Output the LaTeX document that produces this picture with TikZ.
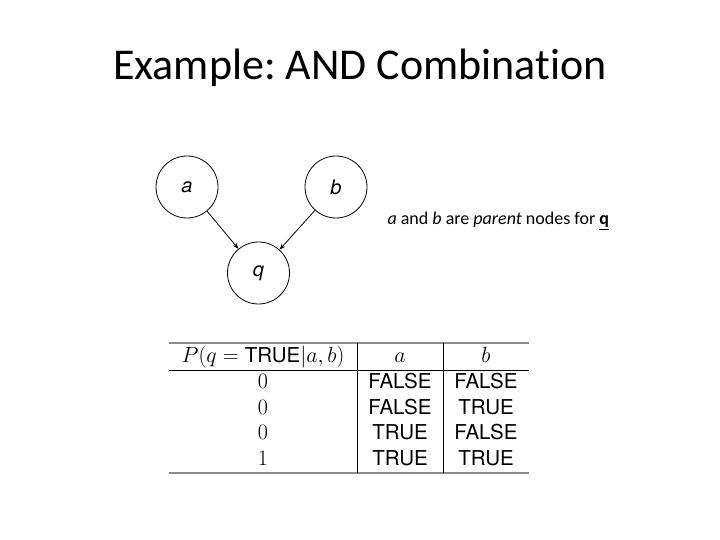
\documentclass[tikz,border=0pt]{standalone}
\usepackage{fix-cm}
\usepackage[no-math]{fontspec}
\setmainfont{Carlito}[Ligatures={NoCommon}]
\newfontfamily\heros{TeX Gyre Heros}
\usetikzlibrary{arrows.meta}
\frenchspacing
\begin{document}
\begin{tikzpicture}[x=1pt,y=-1pt,
  vnode/.style={draw,circle,line width=0.8pt,minimum size=62pt,inner sep=0pt,font=\fontsize{20}{24}\selectfont\heros\itshape},
  edge/.style={line width=0.8pt,-{Stealth[length=6pt,width=4.5pt]}},
  cell/.style={anchor=base,inner sep=0pt,font=\fontsize{22}{26}\selectfont},
  tv/.style={cell,font=\fontsize{20.5}{24}\selectfont\heros},
  rule/.style={line width=1pt},
  grule/.style={line width=1.5pt,draw=black!45}]
\useasboundingbox (0,0) rectangle (720,540);
\node (title) at (360,68) {\fontsize{44}{52}\selectfont Example: AND Combination};
\node[vnode] (a) at (187,187) {a};
\node[vnode] (b) at (336,187) {b};
\node[vnode] (q) at (258.5,273) {q};
\draw[edge] (a) -- (q);
\draw[edge] (b) -- (q);
\node[anchor=west,font=\fontsize{18}{21}\selectfont] (cap) at (384,221) {\textit{a} and \textit{b} are \textit{parent} nodes for \underline{\textbf{q}}};
% table
\coordinate (tl) at (169,343); \coordinate (tr) at (529,343);
\coordinate (ml) at (169,370); \coordinate (mr) at (529,370);
\coordinate (bl) at (169,473); \coordinate (br) at (529,473);
\coordinate (v1t) at (357,343); \coordinate (v1b) at (357,473);
\coordinate (v2t) at (443,343); \coordinate (v2b) at (443,473);
\draw[grule] (tl) -- (tr);
\draw[grule] (bl) -- (br);
\draw[rule] (ml) -- (mr);
\draw[rule] (v1t) -- (v1b);
\draw[rule] (v2t) -- (v2b);
\node[cell] (h1) at (263,362.5) {$P(q=\hbox{\fontsize{20.5}{24}\selectfont\heros TRUE}|a,b)$};
\node[cell] (h2) at (400,362.5) {$a$};
\node[cell] (h3) at (486,362.5) {$b$};
\node[cell] (p1) at (263,388.5) {$0$};
\node[cell] (p2) at (263,414) {$0$};
\node[cell] (p3) at (263,439.5) {$0$};
\node[cell] (p4) at (263,465) {$1$};
\node[tv] (a1) at (400,388.5) {FALSE};
\node[tv] (a2) at (400,414) {FALSE};
\node[tv] (a3) at (400,439.5) {TRUE};
\node[tv] (a4) at (400,465) {TRUE};
\node[tv] (b1) at (486,388.5) {FALSE};
\node[tv] (b2) at (486,414) {TRUE};
\node[tv] (b3) at (486,439.5) {FALSE};
\node[tv] (b4) at (486,465) {TRUE};
\end{tikzpicture}
\end{document}
